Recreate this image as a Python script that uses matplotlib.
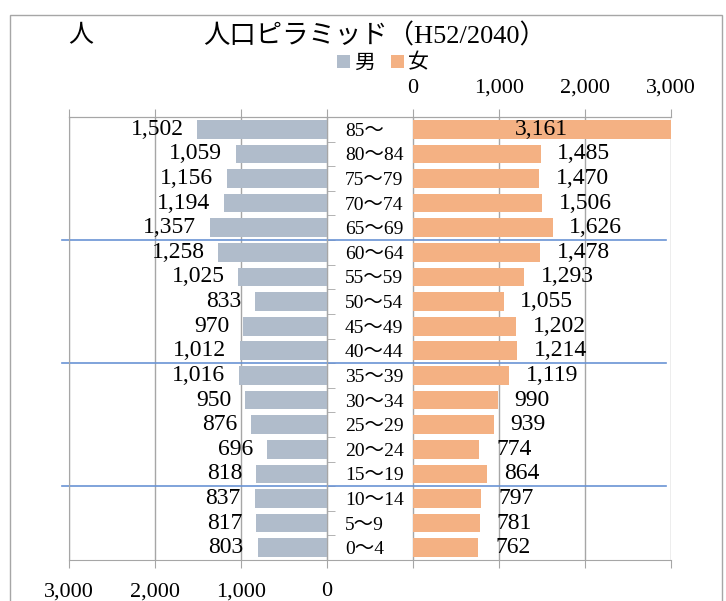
#人口ピラミッド（H52/2040）の再現
import matplotlib
matplotlib.use('Agg')
import matplotlib.pyplot as plt
import matplotlib.patches as mpatches
import numpy as np

plt.rcParams['font.family'] = ['Liberation Serif', 'Noto Sans CJK JP']

title = '人口ピラミッド（H52/2040）'
unit_label = '人'
ages = ['85～', '80～84', '75～79', '70～74', '65～69', '60～64', '55～59', '50～54',
        '45～49', '40～44', '35～39', '30～34', '25～29', '20～24', '15～19', '10～14',
        '5～9', '0～4']
male = [1502, 1059, 1156, 1194, 1357, 1258, 1025, 833, 970, 1012,
        1016, 950, 876, 696, 818, 837, 817, 803]
female = [3161, 1485, 1470, 1506, 1626, 1478, 1293, 1055, 1202, 1214,
          1119, 990, 939, 774, 864, 797, 781, 762]
axis_values = [0, 1000, 2000, 3000]
# 青い区切り線（この年齢層の上に引く）
split_above = ['60～64', '35～39', '10～14']

male_color = '#B0BCCB'
female_color = '#F4B183'
grid_color = '#A6A6A6'
line_blue = '#6A93D4'

gap = 1000          # 中央の年齢ラベル用のすき間（データ単位）
half = gap / 2
vmax = max(axis_values)

fig = plt.figure(figsize=(7.26, 6.01), dpi=100)
W, H = 726, 601
ax = fig.add_axes([68.5 / W, 41 / H, (671 - 68.5) / W, (560 - 117) / H])

n = len(ages)
y = np.arange(n)[::-1]

bm = ax.barh(y, [-v for v in male], left=-half, height=0.76, color=male_color, label='男')
bf = ax.barh(y, female, left=half, height=0.76, color=female_color, label='女')

ax.set_xlim(-half - vmax, half + vmax)
ax.set_ylim(-0.5, n - 0.5)

# x軸: 下=男, 上=女
xt_m = [-half - v for v in axis_values]
xt_f = [half + v for v in axis_values]
ax.set_xticks(xt_m + xt_f, labels=[f'{v:,}' for v in axis_values] + [''] * len(axis_values))
ax.tick_params(axis='x', direction='out', length=6, color=grid_color, labelsize=16, pad=10)
ax.grid(True, axis='x', color=grid_color, linewidth=1)
ax.set_axisbelow(True)

sec = ax.secondary_xaxis('top')
sec.set_xticks(xt_m + xt_f, labels=[''] * len(axis_values) + [f'{v:,}' for v in axis_values])
sec.tick_params(axis='x', direction='out', length=6, color=grid_color, labelsize=16, pad=8)
sec.spines['top'].set_color(grid_color)

# y軸（年齢）: 男の0の位置に配置
ax.yaxis.tick_right()
ax.spines['right'].set_position(('data', -half))
ax.set_yticks(y, labels=ages)
ax.set_yticks(np.arange(n - 1) + 0.5, minor=True)
ax.tick_params(axis='y', which='major', length=0, pad=13, labelsize=14)
ax.tick_params(axis='y', which='minor', length=6, direction='out', color=grid_color)
for s in ['left', 'right', 'top', 'bottom']:
    ax.spines[s].set_color(grid_color)

# データラベル
for yy, v in zip(y, male):
    ax.annotate(f'{v:,}', xy=(-half - v, yy), xytext=(-10, 0), textcoords='offset points',
                ha='right', va='center', fontsize=17)
for yy, v in zip(y, female):
    if v > vmax:
        ax.text((half + half + vmax) / 2, yy, f'{v:,}', ha='center', va='center', fontsize=17)
    else:
        ax.annotate(f'{v:,}', xy=(half + v, yy), xytext=(12, 0), textcoords='offset points',
                    ha='left', va='center', fontsize=17)

# 青い区切り線
for a in split_above:
    yy = y[ages.index(a)] + 0.5
    ax.axhline(yy, xmin=-0.011, xmax=0.992, color=line_blue, linewidth=1.2, clip_on=False)

fig.text(375 / W, 1 - 36 / H, title, ha='center', va='center', fontsize=19)
fig.text(68 / W, 1 - 36 / H, unit_label, ha='left', va='center', fontsize=18)
fig.legend(handles=[bm, bf], loc='center', bbox_to_anchor=(383 / W, 1 - 64 / H), ncol=2,
           frameon=False, fontsize=15, handlelength=0.6, handleheight=0.6,
           handletextpad=0.2, columnspacing=0.8, borderpad=0)

fig.patches.append(mpatches.Rectangle((10 / W, -0.1), (722 - 10) / W, 1.1 - 15 / H,
                                      transform=fig.transFigure, fill=False,
                                      edgecolor=grid_color, linewidth=1))

fig.savefig('out.png', dpi=100)
